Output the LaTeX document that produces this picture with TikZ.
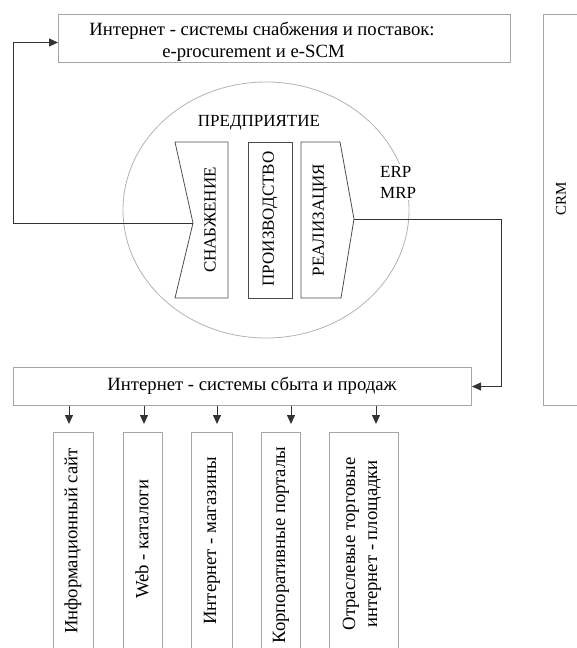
\documentclass[tikz,border=0pt]{standalone}
\usepackage{fontspec}
\setmainfont{Liberation Serif}
\usetikzlibrary{arrows.meta}
\begin{document}
\begin{tikzpicture}[x=1pt,y=-1pt,
  box/.style={draw=gray!70, line width=1pt, inner sep=0pt},
  shp/.style={draw=gray!60!black, line width=0.8pt},
  conn/.style={draw=gray!40!black, line width=0.8pt},
  arr/.style={conn, -{Triangle[length=9pt,width=8pt]}},
  txt/.style={font=\fontsize{17}{21}\selectfont, inner sep=1pt},
  ltxt/.style={font=\fontsize{18.7}{22}\selectfont, inner sep=1pt}
]
\useasboundingbox (0,0) rectangle (576,648);

% top box
\node[box, minimum width=452pt, minimum height=48pt, anchor=north west] (supply) at (58,14) {};
\node[ltxt, align=center] (supplyT) at (262,42) {Интернет - системы снабжения и поставок:\\e-procurement и e-SCM\hspace*{17pt}};

% CRM
\node[box, minimum width=60pt, minimum height=391pt, anchor=north west] (crm) at (543,14) {};
\node[font=\fontsize{15}{18}\selectfont, rotate=90] (crmT) at (561,199) {CRM};

% enterprise
\draw[draw=gray!60, line width=0.8pt] (266,210) ellipse [x radius=143pt, y radius=128pt];
\node[txt] (ent) at (259,123) {ПРЕДПРИЯТИЕ};
\node[txt, fill=white, align=left, anchor=west, inner sep=2pt] (erp) at (378,182) {ERP\\MRP};

\coordinate (notch) at (193,223);
\coordinate (realtip) at (354,219);
\draw[shp] (175,142) -- (228,142) -- (228,298) -- (175,298) -- (notch) -- cycle;
\draw[shp] (248,142) rectangle (292,298);
\draw[shp] (301,142) -- (340,142) -- (realtip) -- (341,298) -- (301,298) -- cycle;
\node[txt, rotate=90] (snab) at (210,220) {СНАБЖЕНИЕ};
\node[txt, rotate=90] (proiz) at (270,219) {ПРОИЗВОДСТВО};
\node[txt, rotate=90] (real) at (320,220) {РЕАЛИЗАЦИЯ};

% sales box
\node[box, minimum width=458pt, minimum height=38pt, anchor=north west] (sales) at (13,367) {};
\node[ltxt] (salesT) at (252,386) {Интернет - системы сбыта и продаж};

% connectors
\coordinate (fbL) at (13,223);
\draw[arr] (notch) -- (fbL) |- ([yshift=-4pt]supply.west);
\coordinate (fbR) at (501,219);
\draw[arr] (realtip) -- (fbR) |- (sales.east);

% vertical boxes
\foreach \n/\xl/\xr in {1/53/93, 2/123/162, 3/191/232, 4/261/300, 5/329/398}{
  \node[box, minimum width=\xr pt-\xl pt, minimum height=222pt, anchor=north west] (v\n) at (\xl,432) {};
}
\node[ltxt, rotate=90] (v1T) at (73,541) {Информационный сайт};
\node[ltxt, rotate=90] (v2T) at (142,539) {Web - каталоги};
\node[ltxt, rotate=90] (v3T) at (212,541) {Интернет - магазины};
\node[ltxt, rotate=90] (v4T) at (281,545) {Корпоративные порталы};
\node[ltxt, rotate=90, align=center] (v5T) at (362,544) {Отраслевые торговые\\интернет - площадки};

\foreach \n/\ax in {1/69, 2/144, 3/217, 4/291, 5/376}{
  \coordinate (a\n) at (\ax,0);
  \draw[arr, shorten >=8pt] (sales.south -| a\n) -- (v\n.north -| a\n);
}
\end{tikzpicture}
\end{document}
